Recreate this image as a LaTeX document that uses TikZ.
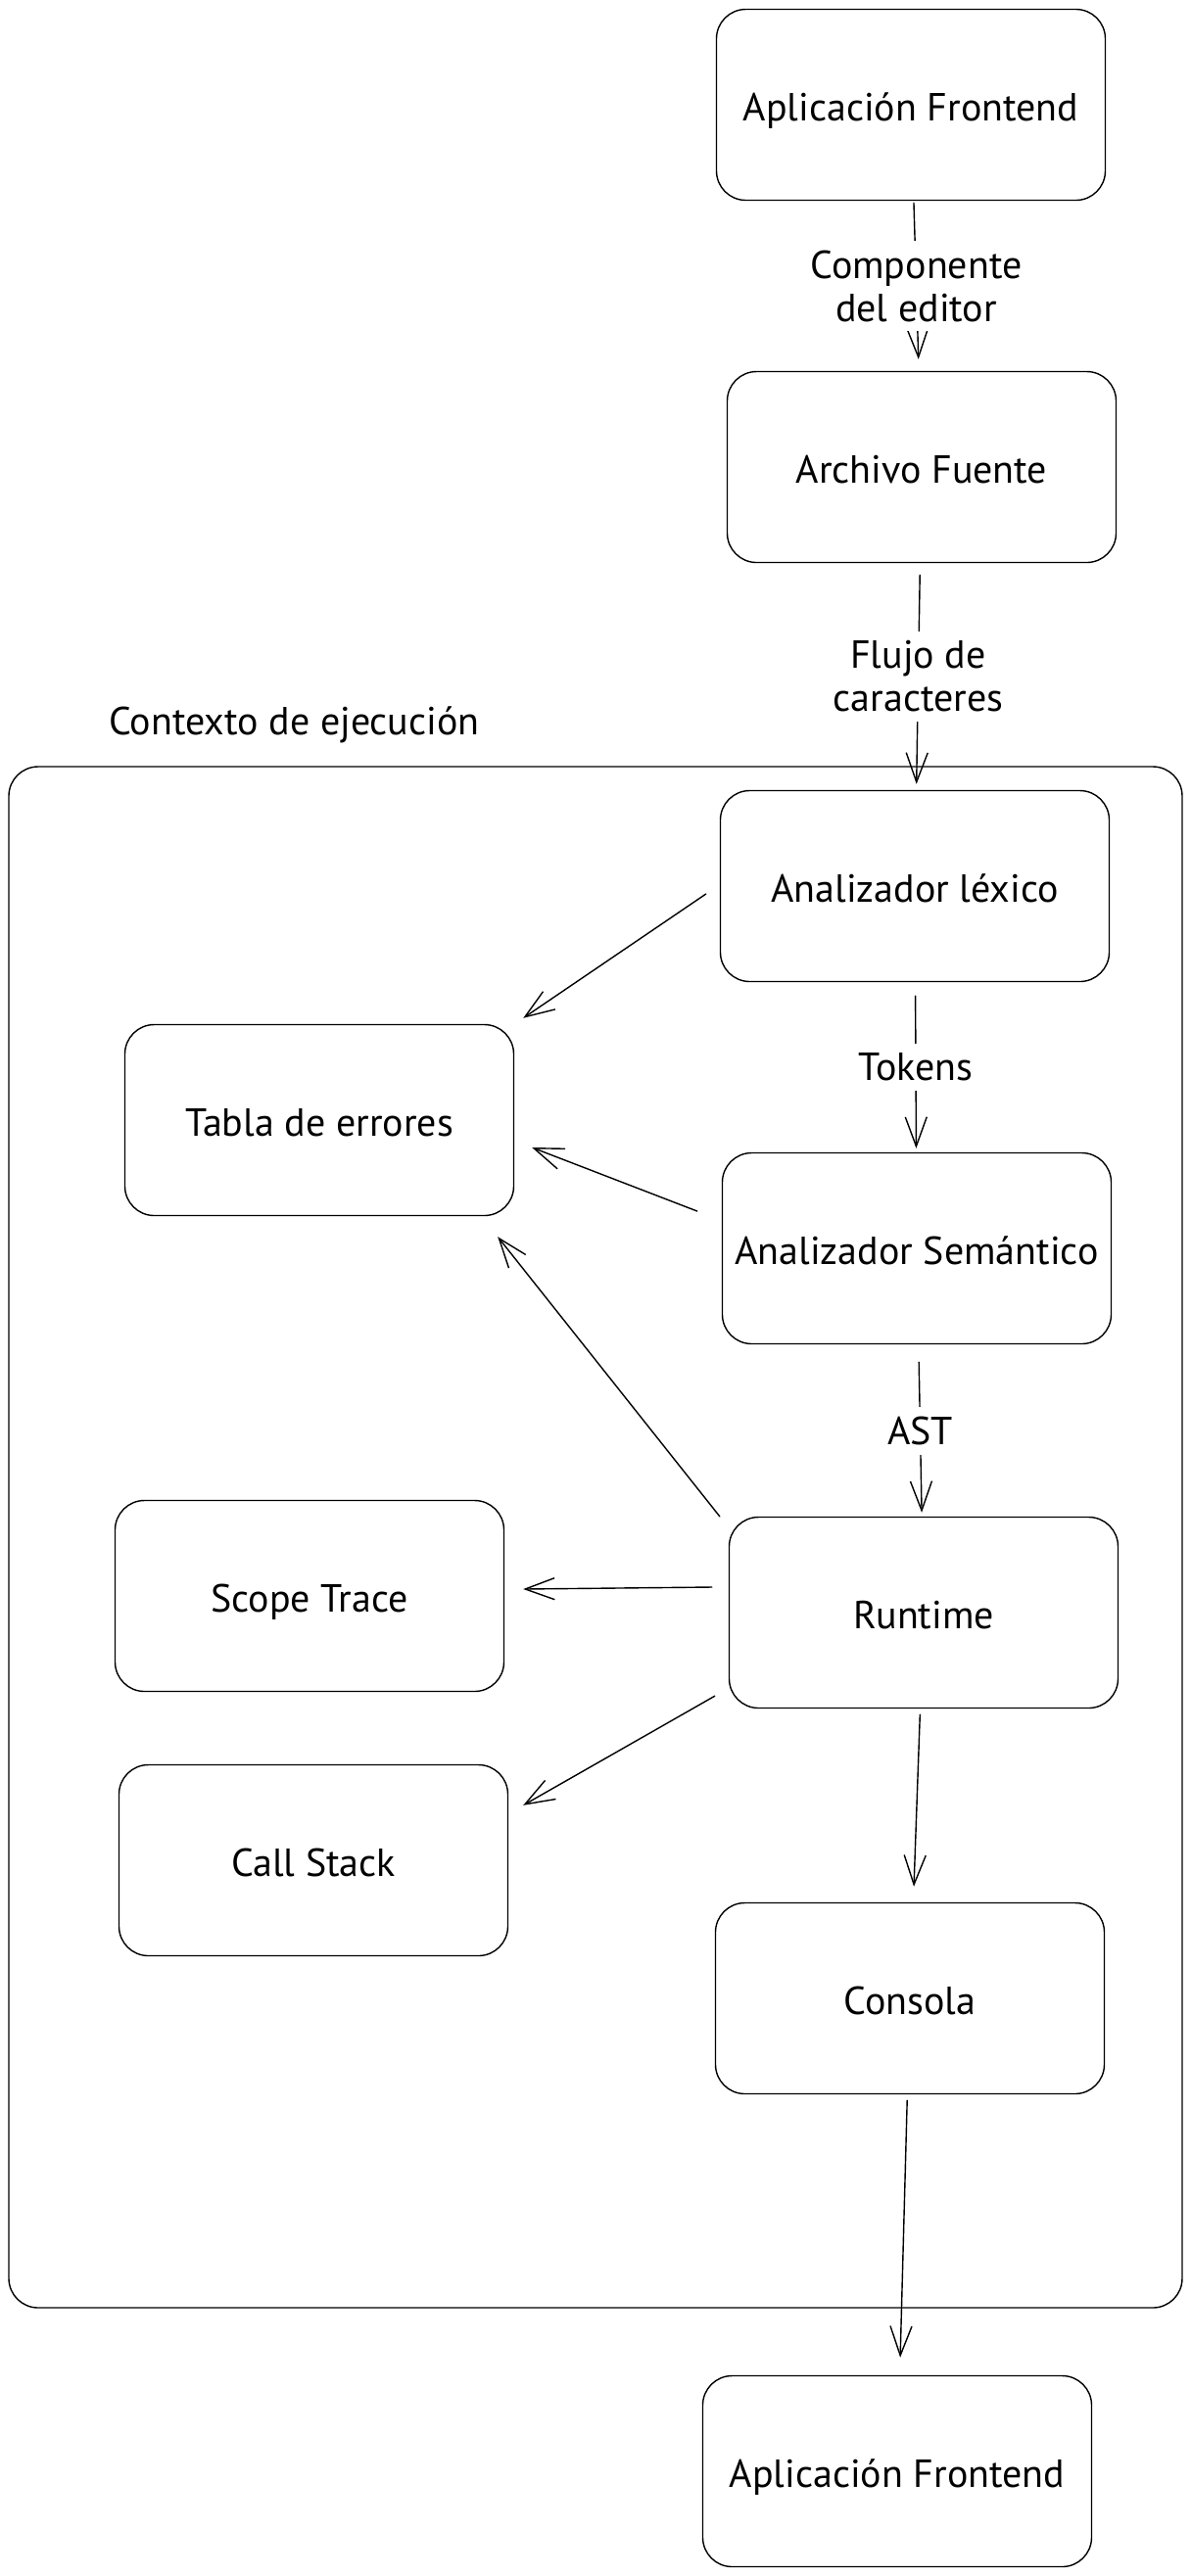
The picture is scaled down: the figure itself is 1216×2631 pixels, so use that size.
\documentclass[tikz,border=0pt]{standalone}
\usepackage{fontspec}
\setmainfont{PT Sans}
\usetikzlibrary{arrows.meta}
\begin{document}
\begin{tikzpicture}[x=0.5pt, y=-0.5pt, line width=0.7pt,
    box/.style={draw, rounded corners=15pt, minimum width=198.5pt, minimum height=97.5pt,
        text height=18pt, text depth=2pt, font=\fontsize{20}{22}\selectfont},
    lbl/.style={fill=white, align=center, inner xsep=2pt, inner ysep=5pt,
        font=\fontsize{20}{22}\selectfont},
    arr/.style={-{Straight Barb[length=15pt, width=11pt]}, line cap=round}]
\useasboundingbox (0, 0) rectangle (1216, 2631);
\fill[white] (0, 0) rectangle (1216, 2631);
% execution context
\draw[rounded corners=15pt] (9, 783) rectangle (1207, 2357);
\node[anchor=west, font=\fontsize{20}{22}\selectfont] (ctx) at (104, 740) {Contexto de ejecución};
% boxes
\node[box] (front1) at (930, 107) {Aplicación Frontend};
\node[box] (fuente) at (941, 477) {Archivo Fuente};
\node[box] (lexico) at (934, 905) {Analizador léxico};
\node[box] (tabla) at (326, 1144) {Tabla de errores};
\node[box] (semantico) at (936, 1275) {Analizador Semántico};
\node[box] (scope) at (316, 1630) {Scope Trace};
\node[box] (runtime) at (943, 1647) {Runtime};
\node[box] (callstack) at (320, 1900) {Call Stack};
\node[box] (consola) at (929, 2041) {Consola};
\node[box] (front2) at (916, 2524) {Aplicación Frontend};
% main flow
\draw[arr, shorten <=1pt, shorten >=6pt] (front1) -- node[lbl] {Componente\\del editor} (fuente);
\draw[arr, shorten <=6pt, shorten >=3pt] (fuente) -- node[lbl] {Flujo de\\caracteres} (lexico);
\draw[arr, shorten <=7pt, shorten >=2pt] (lexico) -- node[lbl] {Tokens} (semantico);
\draw[arr, shorten <=9pt, shorten >=2pt] (semantico) -- node[lbl] {AST} (runtime);
\draw[arr, shorten <=3pt, shorten >=8pt] (runtime) -- (consola);
\draw[arr, shorten <=3pt, shorten >=9pt] (consola) -- (front2);
% side outputs
\draw[arr] ([shift={(-14, 8)}]lexico.west) -- ([shift={(9, -6)}]tabla.north east);
\draw[arr] ([shift={(-25, -38)}]semantico.west) -- ([shift={(18, 28)}]tabla.east);
\draw[arr] ([shift={(-9, 0)}]runtime.north west) -- ([shift={(-17, 21)}]tabla.south east);
\draw[arr] ([shift={(-17, -26)}]runtime.west) -- ([shift={(19, -7)}]scope.east);
\draw[arr] ([shift={(-14, -13)}]runtime.south west) -- ([shift={(15, 42)}]callstack.north east);
\end{tikzpicture}
\end{document}
